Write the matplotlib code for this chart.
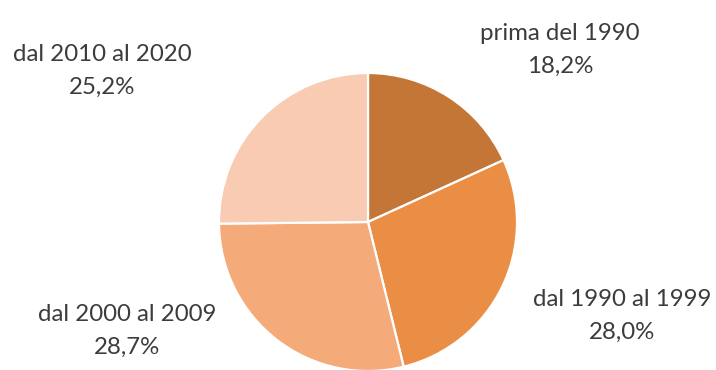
import matplotlib
matplotlib.use('Agg')
import matplotlib.pyplot as plt

categorie = ['prima del 1990', 'dal 1990 al 1999', 'dal 2000 al 2009', 'dal 2010 al 2020']
percentuali = [18.2, 28.0, 28.7, 25.2]
colori = ['#C47636', '#E98E44', '#F5AA79', '#F8CBB2']

# posizione delle etichette (pixel, centro del blocco di testo)
pos_etichette = [(560, 50), (622, 316), (127, 331), (102, 71)]

W, H = 716, 370
fig = plt.figure(figsize=(W / 100, H / 100), dpi=100)

cx, cy, r = 368, 222, 149
ax = fig.add_axes([(cx - r) / W, (H - cy - r) / H, 2 * r / W, 2 * r / H])
wedges, _ = ax.pie(percentuali, colors=colori, startangle=90, counterclock=False,
                   radius=1, wedgeprops=dict(edgecolor='white', linewidth=1.6))
for w in wedges:
    w.set_clip_on(False)
ax.set_xlim(-1, 1)
ax.set_ylim(-1, 1)
ax.set_aspect('equal')
ax.axis('off')

for cat, val, (x, y) in zip(categorie, percentuali, pos_etichette):
    testo = '{}\n{:.1f}%'.format(cat, val).replace('.', ',')
    fig.text(x / W, 1 - y / H, testo, ha='center', va='center', fontsize=17.3,
             family='Lato', color='#3c3c3c', linespacing=1.7)

fig.savefig('out.png', dpi=100)
